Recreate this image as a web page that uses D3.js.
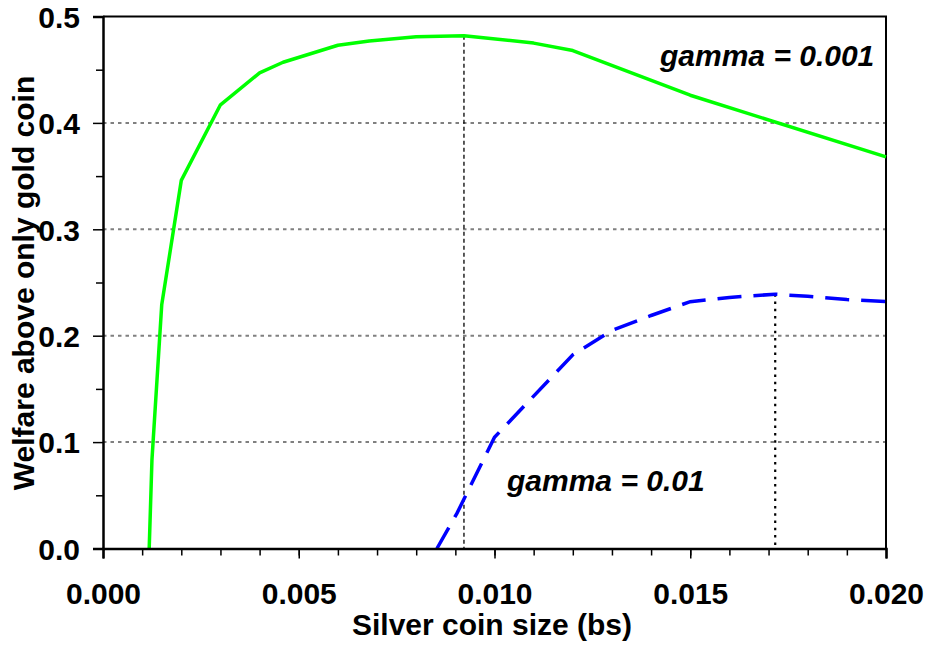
<!DOCTYPE html>
<html>
<head>
<meta charset="utf-8">
<script src="https://cdn.jsdelivr.net/npm/d3@7"></script>
<style>
  body { margin: 0; background: #fff; }
  text { font-family: "Liberation Sans", Arial, sans-serif; font-weight: bold; fill: #000; }
</style>
</head>
<body>
<div id="chart"></div>
<script>
// ------------ DATA ------------
// gamma = 0.001 (green, solid)
var goldX = [0.00118, 0.00125, 0.0015, 0.002, 0.003, 0.004, 0.0046, 0.006, 0.0068, 0.008, 0.00922, 0.011, 0.012, 0.015, 0.020];
var goldY = [0.000, 0.083, 0.229, 0.346, 0.417, 0.447, 0.457, 0.473, 0.477, 0.481, 0.482, 0.475, 0.468, 0.426, 0.368];

// gamma = 0.01 (blue, dashed)
var silverX = [0.00853, 0.00904, 0.0100, 0.0120, 0.0130, 0.0140, 0.0150, 0.0160, 0.01717, 0.0180, 0.0190, 0.0200];
var silverY = [0.000, 0.033, 0.1045, 0.182, 0.205, 0.219, 0.232, 0.236, 0.239, 0.237, 0.234, 0.232];

// peaks with dotted drop lines
var peakX = [0.00922, 0.01717];
var peakY = [0.482, 0.239];

var seriesLabels = ["gamma = 0.001", "gamma = 0.01"];
var xTitle = "Silver coin size (bs)";
var yTitle = "Welfare above only gold coin";

// ------------ CHART FORMATTING ------------
var svgWidth = 928;
var svgHeight = 646;
var fontSize = "30px";

var margin = { top: 16.5, right: 42, bottom: 97.5, left: 103 };
var chartWidth = svgWidth - margin.left - margin.right;
var chartHeight = svgHeight - margin.top - margin.bottom;

var svg = d3.select("#chart")
  .append("svg")
  .attr("width", svgWidth)
  .attr("height", svgHeight);

var chartGroup = svg.append("g")
  .attr("transform", `translate(${margin.left}, ${margin.top})`);

// ------------ SCALES ------------
var x = d3.scaleLinear().domain([0, 0.02]).range([0, chartWidth]);
var y = d3.scaleLinear().domain([0, 0.5]).range([chartHeight, 0]);

// ------------ GRID ------------
chartGroup.append("g")
  .selectAll("line")
  .data([0.1, 0.2, 0.3, 0.4])
  .enter()
  .append("line")
    .attr("x1", 0)
    .attr("x2", chartWidth)
    .attr("y1", d => y(d))
    .attr("y2", d => y(d))
    .attr("stroke", "#808080")
    .attr("stroke-width", 2)
    .attr("stroke-dasharray", "3.5,4");

// frame (top and right)
chartGroup.append("path")
  .attr("d", `M0,${y(0.5)}H${chartWidth}V${chartHeight}`)
  .attr("fill", "none")
  .attr("stroke", "#000")
  .attr("stroke-width", 2);

// ------------ DROP LINES ------------
chartGroup.append("line")
  .attr("x1", x(peakX[0])).attr("x2", x(peakX[0]))
  .attr("y1", y(peakY[0])).attr("y2", y(0))
  .attr("stroke", "#000")
  .attr("stroke-width", 1.3)
  .attr("stroke-dasharray", "4,3");

chartGroup.append("line")
  .attr("x1", x(peakX[1])).attr("x2", x(peakX[1]))
  .attr("y1", y(peakY[1])).attr("y2", y(0))
  .attr("stroke", "#000")
  .attr("stroke-width", 2.2)
  .attr("stroke-dasharray", "2.5,4.8");

// ------------ LINES ------------
var line = d3.line()
  .x(d => x(d[0]))
  .y(d => y(d[1]));

chartGroup.append("path")
  .datum(d3.zip(goldX, goldY))
  .attr("d", line)
  .attr("fill", "none")
  .attr("stroke", "#00ff00")
  .attr("stroke-width", 3.5)
  .attr("stroke-linejoin", "round");

chartGroup.append("path")
  .datum(d3.zip(silverX, silverY))
  .attr("d", line)
  .attr("fill", "none")
  .attr("stroke", "#0000ff")
  .attr("stroke-width", 3.5)
  .attr("stroke-dasharray", "24,12");

// ------------ AXES ------------
// y minor ticks
chartGroup.append("g")
  .call(d3.axisLeft(y).tickValues([0.05, 0.15, 0.25, 0.35, 0.45]).tickSize(7).tickFormat(""))
  .call(g => g.select(".domain").remove())
  .selectAll("line").attr("stroke", "#000").attr("stroke-width", 1.5);

// y major
var yAxis = chartGroup.append("g")
  .call(d3.axisLeft(y).tickValues([0, 0.1, 0.2, 0.3, 0.4, 0.5]).tickSize(10).tickPadding(13).tickFormat(d3.format(".1f")));
yAxis.select(".domain").attr("stroke", "#000").attr("stroke-width", 2.5);
yAxis.selectAll(".tick line").attr("stroke", "#000").attr("stroke-width", 1.5);
yAxis.selectAll("text")
  .attr("font-size", fontSize)
  .attr("font-family", "'Liberation Sans', Arial, sans-serif")
  .attr("font-weight", "bold")
  .attr("dy", "0.36em");

// x minor ticks
chartGroup.append("g")
  .attr("transform", "translate(0, " + chartHeight + ")")
  .call(d3.axisBottom(x).tickValues(d3.range(1, 20).map(i => i / 1000)).tickSize(7).tickFormat(""))
  .call(g => g.select(".domain").remove())
  .selectAll("line").attr("stroke", "#000").attr("stroke-width", 1.5);

// x major
var xAxis = chartGroup.append("g")
  .attr("transform", "translate(0, " + chartHeight + ")")
  .call(d3.axisBottom(x).tickValues([0, 0.005, 0.01, 0.015, 0.02]).tickSize(10).tickPadding(20).tickFormat(d3.format(".3f")));
xAxis.select(".domain").attr("stroke", "#000").attr("stroke-width", 2.5);
xAxis.selectAll(".tick line").attr("stroke", "#000").attr("stroke-width", 1.5);
xAxis.selectAll("text")
  .attr("font-size", fontSize)
  .attr("font-family", "'Liberation Sans', Arial, sans-serif")
  .attr("font-weight", "bold")
  .attr("y", 55.5)
  .attr("dy", "0");

// ------------ LABELS ------------
svg.append("text")
  .attr("x", 492)
  .attr("y", 635)
  .attr("text-anchor", "middle")
  .attr("font-size", fontSize)
  .text(xTitle);

svg.append("text")
  .attr("transform", "translate(34, 283) rotate(-90)")
  .attr("text-anchor", "middle")
  .attr("font-size", fontSize)
  .text(yTitle);

svg.append("text")
  .attr("x", 660)
  .attr("y", 66)
  .attr("font-size", fontSize)
  .attr("font-style", "italic")
  .text(seriesLabels[0]);

svg.append("text")
  .attr("x", 507)
  .attr("y", 491)
  .attr("font-size", fontSize)
  .attr("font-style", "italic")
  .text(seriesLabels[1]);
</script>
</body>
</html>
